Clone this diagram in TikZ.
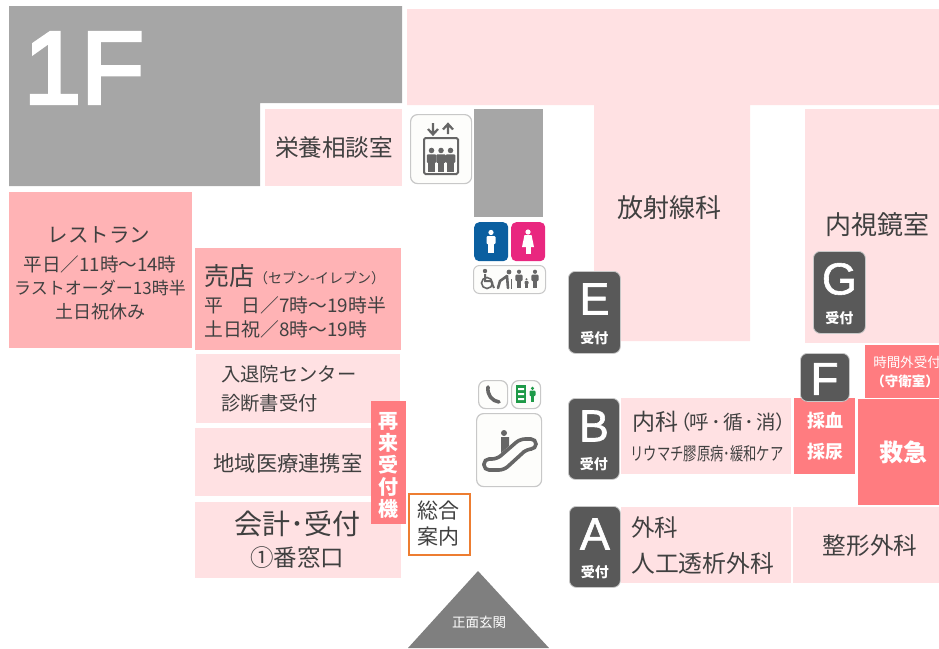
\documentclass[tikz,border=0pt]{standalone}
\usepackage{graphicx}
\usepackage{fontspec}
\setmainfont{Noto Sans CJK JP}
\newfontfamily\pfont[RawFeature=+palt]{Noto Sans CJK JP}
\newfontfamily\latinfont[FakeBold=1.3]{Liberation Sans}
\newfontfamily\bigfont[FakeBold=3.4]{Liberation Sans}
\usetikzlibrary{calc}
\definecolor{lightroom}{HTML}{FFE1E3}
\definecolor{midroom}{HTML}{FFB3B5}
\definecolor{strongroom}{HTML}{FF7C80}
\definecolor{greyarea}{HTML}{A6A6A6}
\definecolor{badge}{HTML}{595959}
\definecolor{entrance}{HTML}{7F7F7F}
\definecolor{ink}{HTML}{404040}
\definecolor{icongrey}{HTML}{666666}
\definecolor{iconedge}{HTML}{C8C8C8}
\definecolor{iconback}{HTML}{FDFDFB}
\definecolor{wcblue}{HTML}{0B5FA0}
\definecolor{wcpink}{HTML}{E9277F}
\definecolor{exitgreen}{HTML}{1E9A48}
\newcommand\fsz[1]{\fontsize{#1}{#1}\selectfont}
% \room{name}{x1}{y1}{x2}{y2}{style}
\newcommand\room[6]{%
  \pgfmathsetmacro\rw{#4-#2}\pgfmathsetmacro\rh{#5-#3}%
  \node[#6,anchor=north west,inner sep=0pt,minimum width=\rw pt,minimum height=\rh pt] (#1) at (#2,#3) {};}
% \badgebox{name}{x1}{y1}{x2}{y2}{letter}
\newcommand\badgebox[6]{%
  \room{#1}{#2}{#3}{#4}{#5}{badgestyle}
  \node[white,inner sep=0pt,font=\latinfont\fsz{45}] (#1L) at ($(#1.north)+(0,28)$) {#6};
  \node[white,inner sep=0pt,font=\fsz{14}\bfseries] (#1R) at ($(#1.south)+(0,-16)$) {受付};}
\newcommand\personicon[4]{% x y scale colour
  \fill[#4] (#1,#2-9.5*#3) circle (2.9*#3);
  \fill[#4,rounded corners=1pt] (#1-5*#3,#2-5.5*#3) rectangle (#1+5*#3,#2+3.5*#3);
  \fill[#4] (#1-3.2*#3,#2+2*#3) rectangle (#1+3.2*#3,#2+13*#3);}
\tikzset{
  x=1pt,y=-1pt,
  lightrm/.style={fill=lightroom},
  midrm/.style={fill=midroom},
  strongrm/.style={fill=strongroom},
  badgestyle/.style={fill=badge,draw=iconedge,line width=.8pt,rounded corners=7pt},
  icon/.style={fill=iconback,draw=iconedge,line width=1.2pt,rounded corners=7pt},
  label/.style={text=ink,inner sep=0pt},
  wlabel/.style={text=white,inner sep=0pt},
}
\begin{document}
\begin{tikzpicture}
\useasboundingbox (0,0) rectangle (939,648);
% grey area
\fill[greyarea] (9,6) -- (402,6) -- (402,103) -- (260,103) -- (260,186) -- (9,186) -- cycle;
\node[white,inner sep=0pt,font=\bigfont\fsz{103}] (oneF) at (84,68) {1F};
% top wing
\fill[lightroom] (407,9) -- (939,9) -- (939,105) -- (750,105) -- (750,341) -- (594,341) -- (594,105) -- (407,105) -- cycle;
\room{endo}{805}{109}{939}{343}{lightrm}
\room{nutri}{265}{109}{402}{186}{lightrm}
\node[label,font=\fsz{23.6}] (nutriT) at (334,148) {栄養相談室};
\node[label,font=\fsz{26}] (radT) at (669,208) {放射線科};
\node[label,font=\fsz{26}] (endoT) at (877,225) {内視鏡室};
% restaurant
\room{rest}{9}{192}{192}{348}{midrm}
\node[label,font=\fsz{20.5}] (restA) at (99,235) {レストラン};
\node[label,font=\fsz{18.6}] (restB) at (100,264) {平日／11時～14時};
\node[label,font=\fsz{17}] (restC) at (100,288) {ラストオーダー13時半};
\node[label,font=\fsz{18}] (restD) at (100,312) {土日祝休み};
% shop
\room{shop}{195}{248}{401}{350}{midrm}
\node[label,anchor=west,font=\fsz{25}] (shopA) at (204,276) {売店};
\node[label,anchor=west,font=\fsz{14}] (shopB) at (254,278) {（セブン-イレブン）};
\node[label,anchor=west,font=\fsz{18.8}] (shopC) at (204,305) {平\hspace{1em}日／7時～19時半};
\node[label,anchor=west,font=\fsz{18.8}] (shopD) at (204,329) {土日祝／8時～19時};
% left rooms
\room{admit}{196}{354}{400}{423}{lightrm}
\node[label,anchor=west,font=\fsz{19.3}] (admitA) at (221,374) {入退院センター};
\node[label,anchor=west,font=\fsz{19.3}] (admitB) at (221,403) {診断書受付};
\room{comm}{195}{428}{400}{496}{lightrm}
\node[label,font=\fsz{21.3}] (commT) at (288,463) {地域医療連携室};
\room{cash}{195}{502}{401}{578}{lightrm}
\node[label,font=\fsz{28}] (cashA) at (297,524) {会計･受付};
\node[label,font=\fsz{23.5}] (cashB) at (297,558) {①番窓口};
% re-visit machine
\room{kiosk}{371}{401}{406}{524}{strongrm}
\foreach \ch [count=\i] in {再,来,受,付,機}
  \node[wlabel,font=\fsz{20}\bfseries] (kiosk\i) at (388.5,399+\i*22) {\ch};
% information
\node[draw={rgb,255:red,237;green,125;blue,49},line width=2.4pt,fill=white,anchor=north west,inner sep=0pt,minimum width=61pt,minimum height=61pt] (info) at (408,493) {};
\node[label,font=\fsz{21}] (infoA) at (438,511) {総合};
\node[label,font=\fsz{21}] (infoB) at (438,537) {案内};
% entrance
\fill[entrance] (408,648) -- (478,571) -- (549,648) -- cycle;
\node[wlabel,font=\fsz{13.5}] (entT) at (479,622) {正面玄関};
% elevator
\room{elev}{410}{114}{471}{183}{icon}
\draw[icongrey,line width=2pt,rounded corners=1.5pt] (424,138) rectangle (458,174);
\personicon{431.5}{159.5}{.95}{icongrey}
\personicon{441}{159.5}{.95}{icongrey}
\personicon{450.5}{159.5}{.95}{icongrey}
\draw[icongrey,line width=2.2pt] (433,123) -- (433,134) (428,129) -- (433,134.5) -- (438,129);
\draw[icongrey,line width=2.2pt] (448,134) -- (448,124) (443,129.5) -- (448,124) -- (453,129.5);
% lift shaft
\room{shaft}{474}{109}{543}{217}{fill=greyarea}
% toilets
\room{wcm}{474}{222}{508}{261}{fill=wcblue,rounded corners=5pt}
\personicon{491}{241}{.9}{white}
\room{wcf}{511}{222}{545}{261}{fill=wcpink,rounded corners=5pt}
\fill[white] (528,232) circle (2.6);
\fill[white] (524.5,235) -- (531.5,235) -- (534,247) -- (522,247) -- cycle;
\fill[white] (525.5,247) rectangle (530.5,254);
% accessible
\room{access}{473}{265}{545}{293}{fill=iconback,draw=iconedge,line width=1pt,rounded corners=6pt}
\draw[icongrey,line width=1.6pt] (487,283) circle (5.5);
\fill[icongrey] (485,271) circle (2.2);
\draw[icongrey,line width=2pt] (485,274) -- (485,281) -- (491,281) -- (494,288);
\fill[icongrey] (509,272) circle (2.4);
\draw[icongrey,line width=2.6pt,line cap=round] (507,276) -- (500,281) -- (498,288) (507,276) -- (508,288);
\draw[icongrey,line width=.8pt] (511,279) -- (511,289);
\personicon{519}{278.6}{.72}{icongrey}
\personicon{526.5}{283}{.4}{icongrey}
\personicon{535}{278.6}{.72}{icongrey}
% phone, exit
\room{phone}{478}{380}{507}{408}{icon}
\draw[icongrey,line width=3.6pt,line cap=round] (488,387) .. controls (487,395) and (492,401) .. (499,402);
\room{green}{511}{380}{540}{408}{icon}
\fill[exitgreen] (516,385) rectangle (526,403);
\fill[white] (518,388) rectangle (524,390) (518,393) rectangle (524,395) (518,398) rectangle (524,400);
\personicon{532.5}{394}{.6}{exitgreen}
% escalator
\room{esc}{476}{413}{541}{486}{icon}
\fill[icongrey] (504,433) circle (3);
\fill[icongrey] (501,437) -- (509,437) -- (509,446) -- (501,453) -- cycle;
\draw[icongrey,line width=3.6pt,rounded corners=5pt] (484,459) -- (497,459) -- (520,439) -- (536,439) -- (536,449) -- (527,449) -- (504,470) -- (484,470) -- cycle;
% badges
\badgebox{E}{568}{271}{620}{353}{E}
\badgebox{G}{813}{251}{865}{333}{G}
\badgebox{B}{568}{398}{619}{479}{B}
\badgebox{A}{569}{506}{620}{587}{A}
% clinic
\room{naika}{621}{398}{791}{474}{lightrm}
\node[label,anchor=west,font=\fsz{23}] (naikaA) at (632,422) {内科};
\node[label,anchor=west,font=\pfont\fsz{19.5}] (naikaC) at (680,422) {（呼\hspace{.1em}･\hspace{.1em}循\hspace{.1em}･\hspace{.1em}消）};
\node[label,font=\fsz{18}] (naikaB) at (707,454) {\scalebox{.74}[1]{リウマチ膠原病･緩和ケア}};
\room{blood}{794}{398}{855}{474}{strongrm}
\node[wlabel,font=\fsz{18}\bfseries] (bloodA) at (825,421) {採血};
\node[wlabel,font=\fsz{18}\bfseries] (bloodB) at (825,452) {採尿};
\room{er}{858}{399}{939}{505}{strongrm}
\node[wlabel,font=\fsz{24}\bfseries] (erT) at (903,452) {救急};
\room{night}{865}{345}{939}{398}{strongrm}
\node[wlabel,font=\fsz{13.5}] (nightA) at (907,362) {時間外受付};
\node[wlabel,font=\fsz{13.5}\bfseries] (nightB) at (905,381) {（守衛室）};
\room{F}{800}{353}{849}{401}{badgestyle}
\node[white,inner sep=0pt,font=\latinfont\fsz{46}] (FL) at (824.5,379) {F};
\room{geka}{621}{507}{791}{583}{lightrm}
\node[label,anchor=west,font=\fsz{23.5}] (gekaA) at (631,528) {外科};
\node[label,anchor=west,font=\fsz{23.8}] (gekaB) at (631,563) {人工透析外科};
\room{ortho}{793}{507}{939}{583}{lightrm}
\node[label,font=\fsz{23.6}] (orthoT) at (870,546) {整形外科};
\end{tikzpicture}
\end{document}
